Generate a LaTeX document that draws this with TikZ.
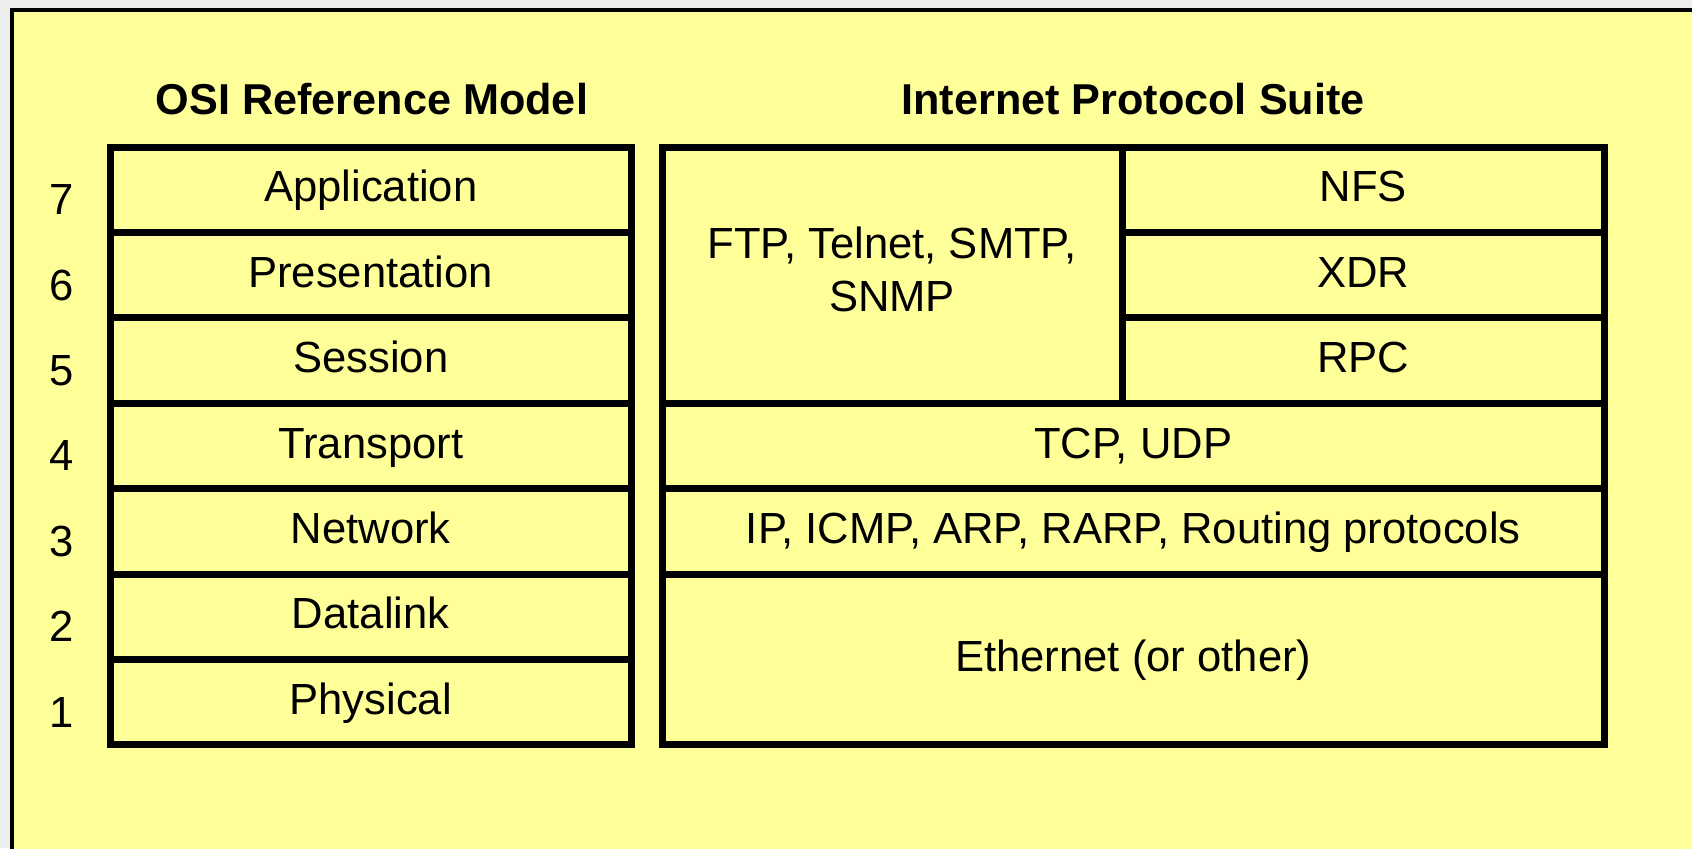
\documentclass[tikz,border=0pt]{standalone}
\usepackage{fontspec}
\setmainfont{Liberation Sans}
\definecolor{slideyellow}{HTML}{FFFF99}
\definecolor{slidegray}{HTML}{EDEDED}
\begin{document}
\begin{tikzpicture}[x=0.5pt,y=-0.5pt,
  every node/.style={font=\fontsize{21.8}{26.5}\selectfont},
  layer/.style={draw, shape=rectangle, line width=3.5pt, inner sep=0pt, minimum height=42.7pt, align=center, text height=15.6pt, text depth=3.5pt},
  osi/.style={layer, minimum width=260.75pt},
  title/.style={font=\fontsize{21.6}{26.5}\selectfont\bfseries}]
\clip (0,0) rectangle (1692,848);
\fill[slidegray] (0,0) rectangle (1692,848);
\draw[fill=slideyellow, line width=2pt] (12,10) rectangle (1720,880);
% titles
\node at (372,99) [title](OSItitle){OSI Reference Model};
\node at (1133,99) [title](IPStitle){Internet Protocol Suite};
% OSI layers
\node at (370.75,189.7) [osi](OSI7){Application};
\node at (370.75,275.1) [osi](OSI6){Presentation};
\node at (370.75,360.5) [osi](OSI5){Session};
\node at (370.75,445.9) [osi](OSI4){Transport};
\node at (370.75,531.3) [osi](OSI3){Network};
\node at (370.75,616.7) [osi](OSI2){Datalink};
\node at (370.75,702.1) [osi](OSI1){Physical};
% layer numbers
\node at (61.5,199.7) (N7){7};
\node at (61.5,285.1) (N6){6};
\node at (61.5,370.5) (N5){5};
\node at (61.5,455.9) (N4){4};
\node at (61.5,541.3) (N3){3};
\node at (61.5,626.7) (N2){2};
\node at (61.5,712.1) (N1){1};
% internet protocol suite
\node at (892,275.1) [layer, minimum width=230pt, minimum height=128.1pt, text height=, text depth=5.5pt](FTP){FTP, Telnet, SMTP,\\SNMP};
\node at (1363.25,189.7) [layer, minimum width=241.25pt](NFS){NFS};
\node at (1363.25,275.1) [layer, minimum width=241.25pt](XDR){XDR};
\node at (1363.25,360.5) [layer, minimum width=241.25pt](RPC){RPC};
\node at (1133.25,445.9) [layer, minimum width=471.25pt](TCP){TCP, UDP};
\node at (1133.25,531.3) [layer, minimum width=471.25pt](IP){IP, ICMP, ARP, RARP, Routing protocols};
\node at (1133.25,659.4) [layer, minimum width=471.25pt, minimum height=85.4pt](ETH){Ethernet (or other)};
\end{tikzpicture}
\end{document}
